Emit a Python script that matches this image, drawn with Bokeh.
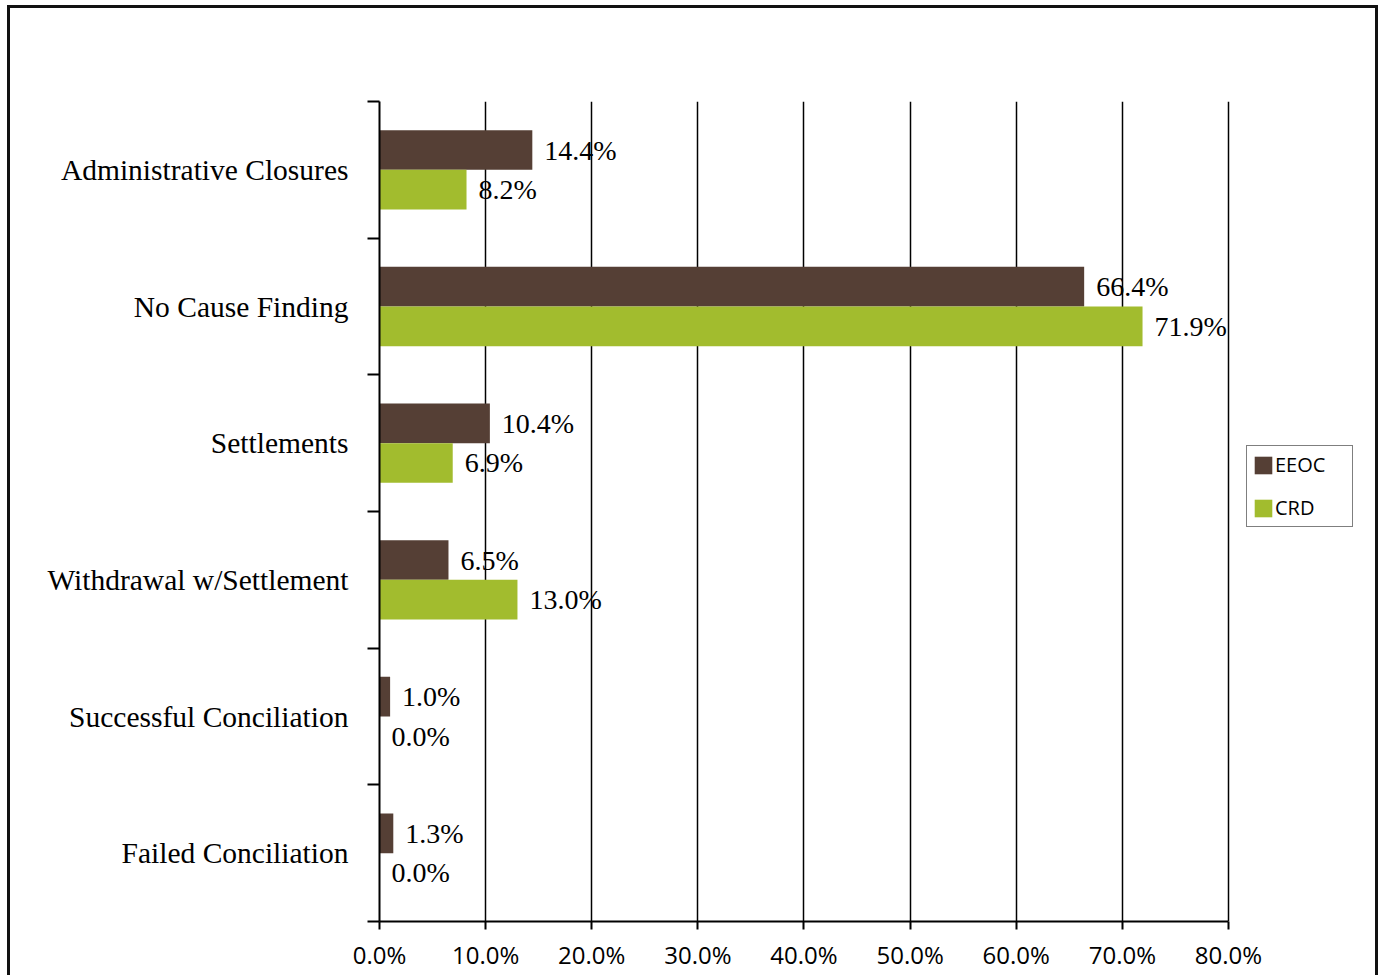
from bokeh.plotting import figure
from bokeh.models import (ColumnDataSource, Range1d, FixedTicker, PrintfTickFormatter,
                          Legend, LegendItem)
from bokeh.core.properties import value
from bokeh.embed import file_html
from bokeh.resources import INLINE

categories = ["Administrative Closures", "No Cause Finding", "Settlements",
              "Withdrawal w/Settlement", "Successful Conciliation", "Failed Conciliation"]
eeoc = [14.4, 66.4, 10.4, 6.5, 1.0, 1.3]
crd = [8.2, 71.9, 6.9, 13.0, 0.0, 0.0]
x_ticks = [0, 10, 20, 30, 40, 50, 60, 70, 80]

EEOC_COLOR = "#553F35"
CRD_COLOR = "#A2BC2E"
SERIF = "Liberation Serif"
SANS = "Open Sans"

n = len(categories)
centers = [n - i - 0.5 for i in range(n)]
bar_h = 0.29
off = 0.145

src_e = ColumnDataSource(dict(y=[c + off for c in centers], v=eeoc,
                              t=["%.1f%%" % v for v in eeoc]))
src_c = ColumnDataSource(dict(y=[c - off for c in centers], v=crd,
                              t=["%.1f%%" % v for v in crd]))

# frame extends right of the 80% line to leave room for the legend;
# axis is bounded to 0..80
X_END = 92.91
p = figure(width=1371, height=970, x_range=Range1d(0, X_END), y_range=Range1d(0, n),
           output_backend="svg", toolbar_location=None,
           min_border_left=369, min_border_right=16, min_border_top=93, min_border_bottom=57)
p.styles = {"border-left": "3px solid #111", "border-top": "3px solid #111",
            "border-right": "3px solid #111", "margin-left": "7px", "margin-top": "5px"}
p.outline_line_color = None
p.background_fill_color = "white"
p.border_fill_color = "white"

r1 = p.hbar(y="y", right="v", left=0, height=bar_h, source=src_e,
            fill_color=EEOC_COLOR, line_color=None)
r2 = p.hbar(y="y", right="v", left=0, height=bar_h, source=src_c,
            fill_color=CRD_COLOR, line_color=None)

for s in (src_e, src_c):
    p.text(x="v", y="y", text="t", source=s, x_offset=12,
           text_font=value(SERIF), text_font_size="28px", text_color="black",
           text_baseline="middle", text_align="left")

# x axis
p.xaxis.bounds = (0, 80)
p.xaxis.ticker = FixedTicker(ticks=x_ticks)
p.xaxis.formatter = PrintfTickFormatter(format="%.1f%%")
p.xaxis.major_label_text_font = SANS
p.xaxis.major_label_text_font_size = "24px"
p.xaxis.major_label_text_color = "black"
p.xaxis.major_tick_out = 8
p.xaxis.major_tick_in = 0
p.xaxis.minor_tick_out = 0
p.xaxis.minor_tick_in = 0
p.xaxis.axis_line_color = "black"
p.xaxis.axis_line_width = 2
p.xaxis.major_tick_line_color = "black"
p.xaxis.major_tick_line_width = 2
p.xaxis.major_label_standoff = 8

# y axis: labels at centers, ticks at boundaries (as minor ticks)
p.yaxis.ticker = FixedTicker(ticks=centers, minor_ticks=list(range(n + 1)))
p.yaxis.major_label_overrides = {c: categories[i] for i, c in enumerate(centers)}
p.yaxis.major_label_text_font = SERIF
p.yaxis.major_label_text_font_size = "29.5px"
p.yaxis.major_label_text_color = "black"
p.yaxis.major_tick_out = 0
p.yaxis.major_tick_in = 0
p.yaxis.minor_tick_out = 12
p.yaxis.minor_tick_in = 0
p.yaxis.minor_tick_line_color = "black"
p.yaxis.minor_tick_line_width = 2
p.yaxis.axis_line_color = "black"
p.yaxis.axis_line_width = 2
p.yaxis.major_label_standoff = 19

p.xgrid.grid_line_color = "black"
p.xgrid.grid_line_width = 1.5
p.ygrid.grid_line_color = None

legend = Legend(items=[LegendItem(label="EEOC", renderers=[r1]),
                       LegendItem(label="CRD", renderers=[r2])],
                location=(867, 394), orientation="vertical",
                glyph_width=22, glyph_height=22, label_height=22, label_width=72,
                label_standoff=1, spacing=16, padding=5, margin=0,
                label_text_font=SANS, label_text_font_size="20px",
                label_text_color="black",
                border_line_color="black", border_line_width=1.5,
                background_fill_color="white", background_fill_alpha=1.0)
p.add_layout(legend, "center")

open("out.html", "w").write(file_html(p, INLINE))
